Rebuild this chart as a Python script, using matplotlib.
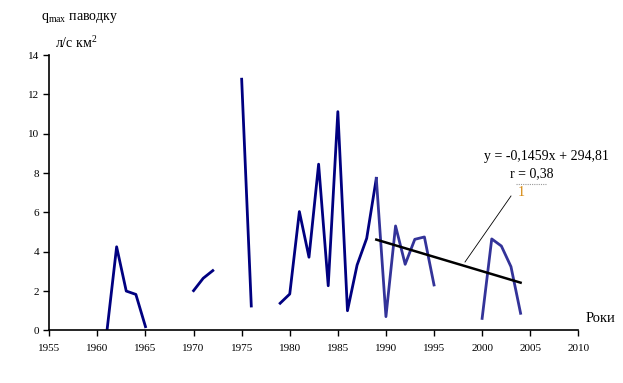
import matplotlib
matplotlib.use("Agg")
import matplotlib.pyplot as plt
import numpy as np

plt.rcParams['font.family'] = ['Liberation Serif', 'DejaVu Serif']

# Series (gaps = missing years)
years_a = [1961, 1962, 1963, 1964, 1965, None, 1970, 1971, 1972, None,
           1975, 1976, None, 1979, 1980, 1981, 1982, 1983, 1984, 1985,
           1986, 1987, 1988, 1989]
vals_a = [0.0, 4.25, 2.0, 1.83, 0.19, None, 2.02, 2.65, 3.04, None,
          12.77, 1.24, None, 1.38, 1.85, 6.04, 3.72, 8.45, 2.27, 11.12,
          1.0, 3.32, 4.68, 7.73]
years_b = [1989, 1990, 1991, 1992, 1993, 1994, 1995, None,
           2000, 2001, 2002, 2003, 2004]
vals_b = [7.73, 0.7, 5.31, 3.36, 4.63, 4.75, 2.31, None,
          0.61, 4.65, 4.29, 3.24, 0.87]

trend_slope = -0.1459
trend_intercept = 294.81
trend_years = [1989, 2004]

xticks = list(range(1955, 2011, 5))
yticks = list(range(0, 15, 2))


def to_arr(lst):
    return np.array([np.nan if v is None else v for v in lst], dtype=float)


fig = plt.figure(figsize=(6.23, 3.83), dpi=100)
ax = fig.add_axes([49.3 / 623, 1 - 330.4 / 383, (578.3 - 49.3) / 623, (330.4 - 55) / 383])

ax.plot(to_arr(years_a), to_arr(vals_a), color='#000080', lw=2.0)
ax.plot(to_arr(years_b), to_arr(vals_b), color='#333399', lw=2.0)

ty = np.array(trend_years, dtype=float)
ax.plot(ty, trend_slope * ty + trend_intercept, color='black', lw=1.8)

ax.set_xlim(1955, 2010)
ax.set_ylim(0, 14)
ax.set_xticks(xticks)
ax.set_yticks(yticks)
ax.set_xticklabels([str(x) for x in xticks])
ax.set_yticklabels([str(y) for y in yticks])
ax.tick_params(axis='both', direction='out', length=4, width=1, labelsize=8, colors='black')
ax.tick_params(axis='x', pad=6)
for s in ['top', 'right']:
    ax.spines[s].set_visible(False)
for s in ['left', 'bottom']:
    ax.spines[s].set_linewidth(1.2)
ax.set_facecolor('none')

# Labels
fig.text(80 / 623, 1 - 18 / 383, r'q$_{\mathregular{max}}$ паводку', ha='center', va='center', fontsize=10)
fig.text(76 / 623, 1 - 43 / 383, r'л/с км$^{\mathregular{2}}$', ha='center', va='center', fontsize=10)
fig.text(600 / 623, 1 - 318 / 383, 'Роки', ha='center', va='center', fontsize=10.5)

# Trend annotation
fig.text(546 / 623, 1 - 157 / 383, 'y = -0,1459x + 294,81', ha='center', va='center', fontsize=10)
fig.text(532 / 623, 1 - 174 / 383, 'r = 0,38', ha='center', va='center', fontsize=10)
fig.add_artist(plt.Line2D([516 / 623, 547 / 623], [1 - 184 / 383, 1 - 184 / 383],
                          transform=fig.transFigure, color='#999999', lw=0.8, ls=(0, (1, 1))))
fig.text(521 / 623, 1 - 193 / 383, '1', ha='center', va='center', fontsize=10, color='#D4860B')
fig.add_artist(plt.Line2D([465 / 623, 511 / 623], [1 - 262 / 383, 1 - 196 / 383],
                          transform=fig.transFigure, color='black', lw=0.6))

fig.savefig('out.png', dpi=100)
